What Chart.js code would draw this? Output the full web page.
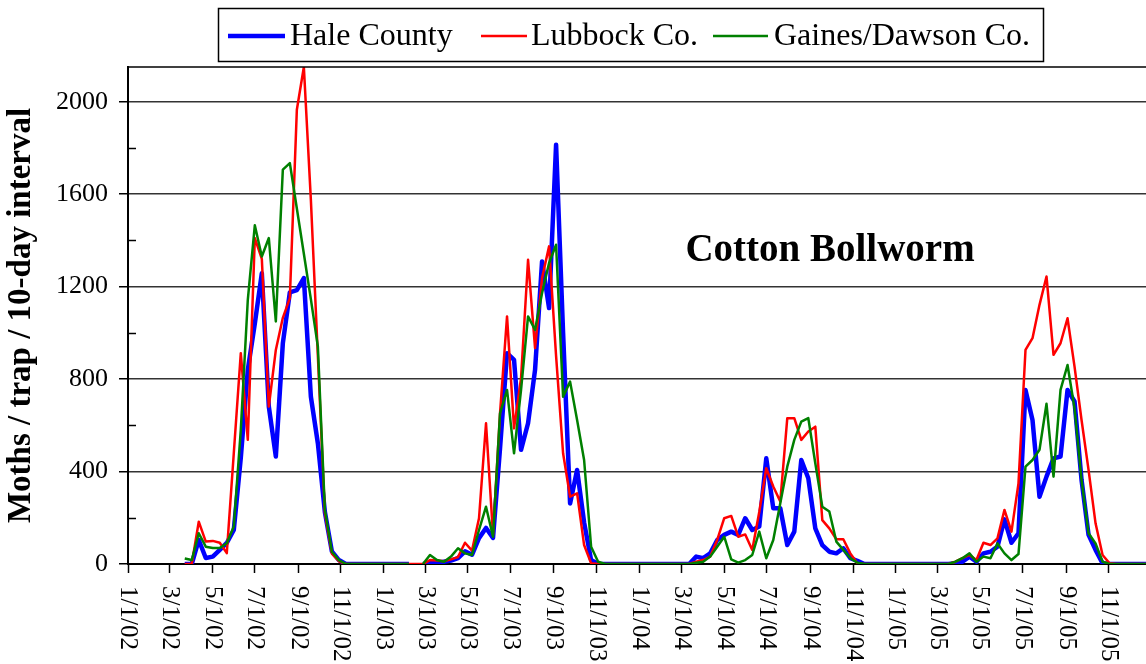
<!DOCTYPE html>
<html>
<head>
<meta charset="utf-8">
<script src="https://cdn.jsdelivr.net/npm/chart.js@4.4.1/dist/chart.umd.min.js"></script>
<style>
  html, body { margin: 0; padding: 0; background: #fff; }
  #wrap { width: 1146px; height: 664px; }
</style>
</head>
<body>
<div id="wrap"><canvas id="trapChart" width="1146" height="664"></canvas></div>
<script>
// one catch per 10-day interval, first interval starts 3/22/02
const firstDay = 81;   // days after 1/1/02
const stepDays = 10;

const hale = [
  0, 0, 104, 26, 32, 61, 91, 147, 460, 840, 1040, 1258, 681, 465, 955, 1175, 1185, 1237, 724, 522, 225, 55, 17, 0,
  0, 0, 0, 0, 0, 0, 0, 0, 0, null,
  0, 3, 5, 10, 15, 25, 55, 40, 112, 156, 113, 500, 912, 883, 494, 609, 840, 1309, 1107, 1814, 1000, 262, 407, 180, 17, 0, 0,
  0, 0, 0, 0, 0, 0, 0, 0, 0, 0, 0, 0,
  32, 25, 46, 104, 126, 140, 126, 198, 147, 162, 457, 241, 241, 82, 140, 450, 371, 154, 82, 53, 46, 68, 25, 14, 0,
  0, 0, 0, 0, 0, 0, 0, 0, 0, 0, 0, 0,
  3, 10, 32, 10, 46, 53, 75, 193, 92, 133, 753, 623, 291, 378, 457, 465, 753, 703, 364, 126, 61, 3, 0, 0, 0, 0, 0, 0, 0
];

const lubbock = [
  0, 0, 183, 97, 100, 92, 47, 479, 912, 537, 1410, 1320, 681, 926, 1065, 1150, 1965, 2150, 1576, 900, 220, 45, 12, 0,
  0, 0, 0, 0, 0, 0, 0, 0, 0, 0, 0,
  17, 15, 12, 20, 30, 92, 58, 198, 609, 126, 652, 1071, 587, 804, 1316, 934, 1237, 1374, 900, 479, 291, 306, 82, 3, 0, 0,
  0, 0, 0, 0, 0, 0, 0, 0, 0, 0, 0, 0,
  10, 17, 32, 104, 198, 208, 118, 128, 61, 225, 414, 335, 270, 631, 631, 537, 573, 594, 190, 154, 107, 107, 46, 3, 0,
  0, 0, 0, 0, 0, 0, 0, 0, 0, 0, 0, 0,
  10, 25, 39, 17, 92, 82, 111, 234, 140, 349, 926, 977, 1121, 1244, 905, 955, 1063, 854, 623, 407, 176, 39, 3, 0, 0, 0, 0, 0, 0
];

const gaines = [
  24, 17, 133, 75, 69, 69, 90, 162, 580, 1143, 1465, 1330, 1410, 1049, 1706, 1734, 1538, 1342, 1146, 941, 234, 53, 17, 0,
  0, 0, 0, 0, 0, 0, 0, 0, 0, null,
  0, 39, 17, 10, 32, 68, 46, 39, 147, 248, 118, 652, 753, 479, 753, 1071, 1013, 1172, 1302, 1381, 724, 789, 623, 450, 75, 10, 0,
  0, 0, 0, 0, 0, 0, 0, 0, 0, 0, 0, 0,
  5, 10, 32, 75, 118, 20, 6, 17, 39, 140, 25, 104, 263, 421, 537, 616, 631, 436, 248, 227, 97, 61, 25, 6, 0,
  0, 0, 0, 0, 0, 0, 0, 0, 0, 0, 0, 0,
  10, 25, 46, 10, 32, 25, 89, 46, 17, 43, 421, 450, 494, 693, 378, 753, 861, 674, 364, 133, 89, 10, 0, 0, 0, 0, 0, 0, 0
];

const seriesNames = ["Hale County", "Lubbock Co.", "Gaines/Dawson Co."];
const seriesColors = ["#0000ff", "#ff0000", "#008000"];
const yTicks = [0, 400, 800, 1200, 1600, 2000];
const yMinorTicks = [200, 600, 1000, 1400, 1800];
const xTickLabels = [
  "1/1/02", "3/1/02", "5/1/02", "7/1/02", "9/1/02", "11/1/02",
  "1/1/03", "3/1/03", "5/1/03", "7/1/03", "9/1/03", "11/1/03",
  "1/1/04", "3/1/04", "5/1/04", "7/1/04", "9/1/04", "11/1/04",
  "1/1/05", "3/1/05", "5/1/05", "7/1/05", "9/1/05", "11/1/05"
];

const serif = "'Liberation Serif', 'Times New Roman', serif";

function dayOf(label) {
  const [m, d, yy] = label.split("/").map(Number);
  return (Date.UTC(2000 + yy, m - 1, d) - Date.UTC(2002, 0, 1)) / 86400000;
}
const xTickDays = xTickLabels.map(dayOf);

function toPoints(values) {
  return values.map((v, i) => ({ x: firstDay + stepDays * i, y: v }));
}

const decorations = {
  id: "decorations",
  afterDraw(chart) {
    const { ctx, chartArea: area, scales: { x, y } } = chart;
    ctx.save();

    // top edge of plot frame
    ctx.strokeStyle = "#000";
    ctx.lineWidth = 1.5;
    ctx.beginPath();
    ctx.moveTo(area.left, area.top);
    ctx.lineTo(area.right, area.top);
    ctx.stroke();

    // minor ticks inside the value axis
    yMinorTicks.forEach(v => {
      const py = Math.round(y.getPixelForValue(v)) + 0.5;
      ctx.beginPath();
      ctx.moveTo(area.left, py);
      ctx.lineTo(area.left + 8, py);
      ctx.stroke();
    });

    // date labels, reading downwards
    ctx.fillStyle = "#000";
    ctx.font = "25px " + serif;
    ctx.textAlign = "left";
    ctx.textBaseline = "middle";
    xTickLabels.forEach((lab, i) => {
      const px = x.getPixelForValue(xTickDays[i]);
      ctx.save();
      ctx.translate(px, area.bottom + 22);
      ctx.rotate(Math.PI / 2);
      ctx.fillText(lab, 0, 0);
      ctx.restore();
    });

    // chart label inside plot
    ctx.font = "bold 39px " + serif;
    ctx.textAlign = "center";
    ctx.textBaseline = "alphabetic";
    ctx.fillText("Cotton Bollworm", 830, 261);

    // legend box
    ctx.lineWidth = 1.5;
    ctx.strokeStyle = "#000";
    ctx.strokeRect(218.5, 8.5, 825, 53);
    const items = [
      { x0: 228, x1: 285, tx: 290, w: 4.5 },
      { x0: 481, x1: 527, tx: 531, w: 2.5 },
      { x0: 713, x1: 768, tx: 774, w: 2.5 }
    ];
    ctx.font = "32px " + serif;
    ctx.textAlign = "left";
    ctx.textBaseline = "middle";
    items.forEach((it, i) => {
      ctx.strokeStyle = seriesColors[i];
      ctx.lineWidth = it.w;
      ctx.beginPath();
      ctx.moveTo(it.x0, 36);
      ctx.lineTo(it.x1, 36);
      ctx.stroke();
      ctx.fillStyle = "#000";
      ctx.fillText(seriesNames[i], it.tx, 37);
    });

    ctx.restore();
  }
};

const ctx = document.getElementById("trapChart");

new Chart(ctx, {
  type: "line",
  data: {
    datasets: [
      {
        label: seriesNames[0],
        data: toPoints(hale),
        borderColor: seriesColors[0],
        borderWidth: 4.5,
        order: 3
      },
      {
        label: seriesNames[1],
        data: toPoints(lubbock),
        borderColor: seriesColors[1],
        borderWidth: 2.5,
        order: 2
      },
      {
        label: seriesNames[2],
        data: toPoints(gaines),
        borderColor: seriesColors[2],
        borderWidth: 2.5,
        order: 1
      }
    ]
  },
  options: {
    responsive: false,
    animation: false,
    devicePixelRatio: 1,
    layout: { padding: { top: 67, left: 0, right: 0, bottom: 0 } },
    elements: {
      point: { radius: 0 },
      line: { tension: 0, borderJoinStyle: "round" }
    },
    plugins: {
      legend: { display: false },
      tooltip: { enabled: false }
    },
    scales: {
      x: {
        type: "linear",
        min: 0,
        max: 1453,
        afterBuildTicks: scale => {
          scale.ticks = xTickDays.map(v => ({ value: v }));
        },
        afterFit: scale => { scale.height = 100; },
        ticks: { display: false },
        grid: {
          drawOnChartArea: false,
          drawTicks: true,
          tickLength: 9,
          tickWidth: 1.5,
          tickColor: "#000"
        },
        border: { color: "#000", width: 2 }
      },
      y: {
        min: 0,
        max: 2150,
        afterBuildTicks: scale => {
          scale.ticks = yTicks.map(v => ({ value: v }));
        },
        afterFit: scale => { scale.width = 128; },
        ticks: {
          color: "#000",
          padding: 11,
          font: { family: serif, size: 26 },
          callback: v => String(v)
        },
        grid: {
          color: "#333",
          lineWidth: 1.5,
          tickLength: 9,
          tickColor: "#000"
        },
        border: { color: "#000", width: 2 },
        title: {
          display: true,
          text: "Moths / trap / 10-day interval",
          color: "#000",
          padding: { top: 2, bottom: 0 },
          font: { family: serif, size: 33, weight: "bold" }
        }
      }
    }
  },
  plugins: [decorations]
});
</script>
</body>
</html>
